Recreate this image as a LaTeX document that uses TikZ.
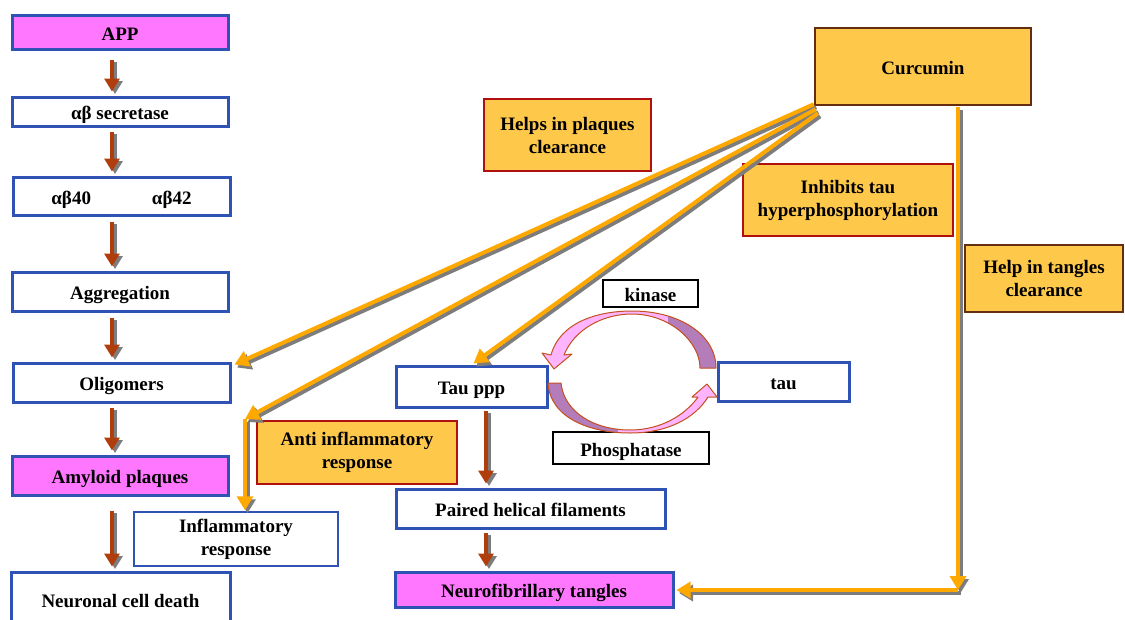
\documentclass[tikz,border=0pt]{standalone}
\usepackage{fontspec}
\setmainfont{Liberation Serif}
\usetikzlibrary{arrows.meta,calc}
\definecolor{bblue}{RGB}{47,82,181}
\definecolor{magf}{RGB}{255,119,255}
\definecolor{orf}{RGB}{254,200,75}
\definecolor{redb}{RGB}{176,16,16}
\definecolor{brb}{RGB}{100,45,15}
\definecolor{arrbrown}{RGB}{176,62,12}
\definecolor{arrorange}{RGB}{255,168,0}
\definecolor{shad}{RGB}{125,125,125}
\definecolor{pinkf}{RGB}{255,180,255}
\definecolor{purf}{RGB}{180,125,185}
\definecolor{curvb}{RGB}{195,80,30}
\begin{document}
\begin{tikzpicture}[x=1pt,y=-1pt,
  font=\fontsize{19}{23}\selectfont\bfseries,
  one/.style={text height=18pt, text depth=2pt},
  bx/.style={draw=bblue, line width=3pt, fill=white, inner sep=0pt, align=center},
  magbox/.style={bx, fill=magf},
  thinbx/.style={draw=bblue, line width=1.5pt, fill=white, inner sep=0pt, align=center},
  blkbx/.style={draw=black, line width=1.3pt, fill=white, inner sep=0pt, align=center},
  orbox/.style={draw=redb, line width=2pt, fill=orf, inner sep=0pt, align=center},
  curbox/.style={draw=brb, line width=2.5pt, fill=orf, inner sep=0pt, align=center},
  barrow/.style={draw=arrbrown, line width=4.5pt, -{Triangle[width=15pt,length=13pt]},
    preaction={draw=shad, line width=4.5pt, transform canvas={shift={(3pt,-2.5pt)}}}},
  oarrow/.style={draw=arrorange, line width=4pt, -{Triangle[width=16pt,length=14pt]},
    preaction={draw=shad, line width=4pt, transform canvas={shift={(2.5pt,-3pt)}}}},
  curvedge/.style={draw=curvb, line width=1pt, line join=round}
]
\useasboundingbox (0,0) rectangle (1125,619);

% left column
\node[magbox, one, minimum width=216, minimum height=34] (app) at (120,32) {APP};
\node[bx, one, minimum width=216, minimum height=29] (sec) at (120,111.5) {αβ secretase};
\node[bx, one, minimum width=217, minimum height=38] (ab) at (121.5,196) {αβ40\hspace{61pt}αβ42};
\node[bx, one, minimum width=216, minimum height=39] (agg) at (120,291.5) {Aggregation};
\node[bx, one, minimum width=217, minimum height=39] (olig) at (121.5,382.5) {Oligomers};
\node[magbox, one, minimum width=216, minimum height=39] (amy) at (120,475.5) {Amyloid plaques};
\node[bx, one, minimum width=219, minimum height=54] (ncd) at (120.5,599) {Neuronal cell death};
\node[thinbx, minimum width=204, minimum height=54] (infl) at (236,539) {Inflammatory\\response};

% orange boxes
\node[orbox, minimum width=200, minimum height=63] (anti) at (357,452.5) {Anti inflammatory\\response};
\node[orbox, minimum width=167, minimum height=72] (helps) at (567.5,135) {Helps in plaques\\clearance};
\node[curbox, one, minimum width=216, minimum height=77] (cur) at (923,66.5) {Curcumin};
\node[orbox, minimum width=210, minimum height=72] (inh) at (848,200) {Inhibits tau\\hyperphosphorylation};
\node[curbox, minimum width=158, minimum height=67] (htc) at (1044,278.5) {Help in tangles\\clearance};

% tau part
\node[blkbx, one, minimum width=95, minimum height=27] (kin) at (650.5,293.5) {kinase};
\node[bx, one, minimum width=131, minimum height=39] (tau) at (783.5,381.5) {tau};
\node[bx, one, minimum width=151, minimum height=41] (tppp) at (471.5,386.5) {Tau ppp};
\node[blkbx, one, minimum width=156, minimum height=32] (phos) at (631,448) {Phosphatase};
\node[bx, one, minimum width=269, minimum height=39] (phf) at (530.5,508.5) {Paired helical filaments};
\node[magbox, one, minimum width=278, minimum height=35] (nft) at (534,589.5) {Neurofibrillary tangles};

% brown arrows
\draw[barrow] ($(app.south)+(-8,9)$) -- ($(sec.north)+(-8,-4)$);
\draw[barrow] ($(sec.south)+(-8,4)$) -- ($(ab.north)+(-9.5,-4)$);
\draw[barrow] ($(ab.south)+(-9.5,5)$) -- ($(agg.north)+(-8,-4)$);
\draw[barrow] ($(agg.south)+(-8,5)$) -- ($(olig.north)+(-9.5,-4)$);
\draw[barrow] ($(olig.south)+(-9.5,4)$) -- ($(amy.north)+(-8,-4)$);
\draw[barrow] ($(amy.south)+(-8,14)$) -- ($(ncd.north)+(-8.5,-4)$);
\draw[barrow] ($(tppp.south)+(14.5,2)$) -- ($(phf.north)+(-44.5,-4)$);
\draw[barrow] ($(phf.south)+(-44.5,3)$) -- ($(nft.north)+(-48,-4)$);

% curved arrows
\def\kinpath{(551,355) .. controls (560,322) and (598,311) .. (632,311)
  .. controls (680,311) and (716,335) .. (716,368) -- (700,368)
  .. controls (700,342) and (670,314) .. (632,314)
  .. controls (602,314) and (574,330) .. (564,355)
  -- (572,354) -- (554,369) -- (542,353) -- cycle}
\def\phospath{(548,383) .. controls (550,418) and (590,433) .. (630,433)
  .. controls (668,433) and (695,418) .. (708,397) -- (717,397) -- (707,384)
  -- (692,397) -- (698,397) .. controls (686,414) and (662,430) .. (630,430)
  .. controls (594,430) and (564,412) .. (561,383) -- cycle}
\fill[pinkf] \kinpath;
\begin{scope}
  \clip (668,300) rectangle (730,380);
  \fill[purf] \kinpath;
\end{scope}
\draw[curvedge] \kinpath;
\fill[pinkf] \phospath;
\begin{scope}
  \clip (540,375) rectangle (618,440);
  \fill[purf] \phospath;
\end{scope}
\draw[curvedge] \phospath;

% orange arrows from Curcumin
\coordinate (s1) at ($(cur.south west)+(0,-2)$);
\coordinate (s2) at ($(cur.south west)+(2,3)$);
\coordinate (s3) at ($(cur.south west)+(4,7)$);
\coordinate (bend) at (245,419);
\coordinate (corner) at (958,590);
\draw[oarrow] (s1) -- ($(olig.north east)+(3,3)$);
\draw[oarrow] (s2) -- (bend);
\draw[oarrow] (bend) -- ($(infl.north)+(9,-1)$);
\draw[oarrow] (s3) -- ($(tppp.north)+(2,-1)$);
\draw[oarrow] ($(cur.south)+(35,1)$) -- (corner);
\draw[oarrow] (corner) -- ($(nft.east)+(2,0.5)$);
\end{tikzpicture}
\end{document}
